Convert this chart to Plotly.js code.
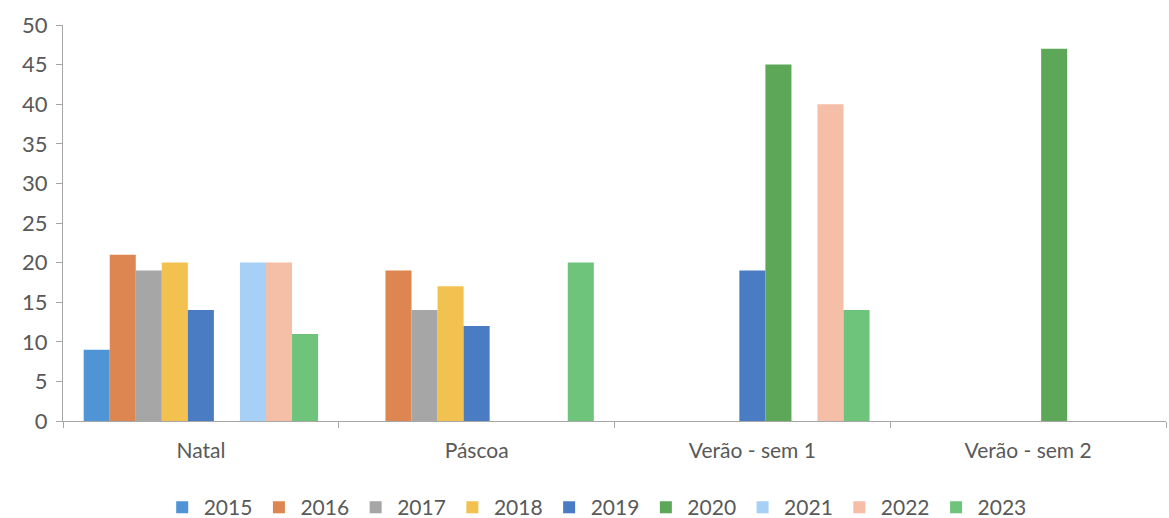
<!DOCTYPE html>
<html>
<head>
<meta charset="utf-8">
<script src="https://cdn.plot.ly/plotly-3.0.1.min.js"></script>
<style>html,body{margin:0;padding:0;background:#fff}#chart{width:1169px;height:518px}</style>
</head>
<body>
<div id="chart"></div>
<script>
const categories = ["Natal", "Páscoa", "Verão - sem 1", "Verão - sem 2"];
const years = ["2015", "2016", "2017", "2018", "2019", "2020", "2021", "2022", "2023"];
const v2015 = [9, 0, 0, 0];
const v2016 = [21, 19, 0, 0];
const v2017 = [19, 14, 0, 0];
const v2018 = [20, 17, 0, 0];
const v2019 = [14, 12, 19, 0];
const v2020 = [0, 0, 45, 47];
const v2021 = [20, 0, 0, 0];
const v2022 = [20, 0, 40, 0];
const v2023 = [11, 20, 14, 0];
const seriesValues = [v2015, v2016, v2017, v2018, v2019, v2020, v2021, v2022, v2023];
const colors = ["#4f95d6", "#de8652", "#a6a6a6", "#f3c14f", "#4a7cc4", "#5da758", "#a6d0f5", "#f5bea6", "#6fc47c"];
const yTicks = [0, 5, 10, 15, 20, 25, 30, 35, 40, 45, 50];

const traces = years.map((y, i) => ({
  type: "bar",
  name: y,
  x: categories,
  y: seriesValues[i],
  marker: {color: colors[i], line: {width: 0}},
  hoverinfo: "x+y+name"
}));

const layout = {
  width: 1169, height: 518,
  margin: {l: 63, r: 3, t: 25, b: 97, autoexpand: false},
  paper_bgcolor: "#fff", plot_bgcolor: "#fff",
  font: {family: "Lato, 'Open Sans', sans-serif", color: "#595959"},
  barmode: "group",
  bargap: 0.15,
  bargroupgap: 0,
  showlegend: true,
  legend: {
    orientation: "h", xref: "container", x: 0.51, xanchor: "center",
    yref: "container", y: 0.02, yanchor: "middle",
    font: {size: 21, color: "#595959"}, itemwidth: 33, traceorder: "normal",
    tracegroupgap: 0, itemclick: false
  },
  xaxis: {
    type: "category",
    showline: true, linecolor: "#a6a6a6", linewidth: 1,
    ticks: "outside", tickson: "boundaries", ticklen: 6, tickcolor: "#a6a6a6",
    tickfont: {size: 21, color: "#595959"}, ticklabelstandoff: 11,
    showgrid: false, zeroline: false, fixedrange: true
  },
  yaxis: {
    range: [0, 50],
    tickvals: yTicks,
    showline: true, linecolor: "#a6a6a6", linewidth: 1,
    ticks: "outside", ticklen: 6, tickcolor: "#a6a6a6",
    tickfont: {size: 22, color: "#595959"}, ticklabelstandoff: 4,
    showgrid: false, zeroline: false, fixedrange: true
  }
};

Plotly.newPlot("chart", traces, layout, {displayModeBar: false, staticPlot: true});
</script>
</body>
</html>
